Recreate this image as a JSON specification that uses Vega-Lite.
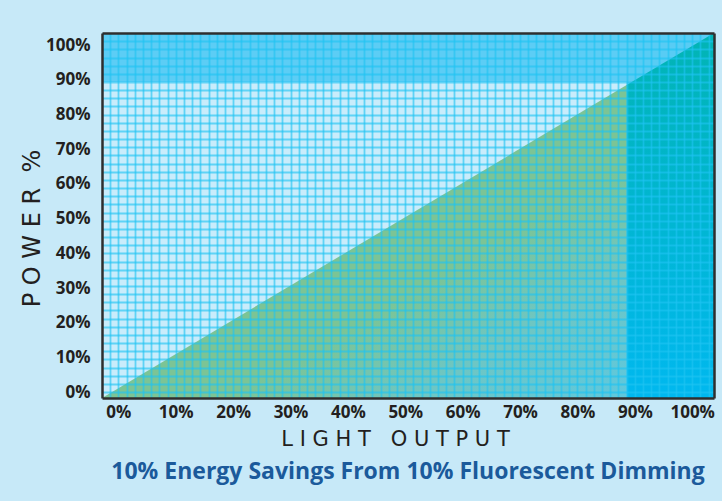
{
  "$schema": "https://vega.github.io/schema/vega-lite/v6.json",
  "width": 612,
  "height": 365,
  "autosize": {"type": "none"},
  "padding": {"left": 102, "top": 33, "right": 8, "bottom": 103},
  "background": "#c7e9f8",
  "config": {"view": {"fill": "#c9ecfb", "stroke": null}},
  "title": {
    "text": "10% Energy Savings From 10% Fluorescent Dimming",
    "orient": "bottom",
    "anchor": "middle",
    "font": "Open Sans",
    "fontSize": 23,
    "fontWeight": "bold",
    "color": "#1b5a9b",
    "offset": 12
  },
  "resolve": {"axis": {"x": "independent", "y": "independent"}},
  "layer": [
    {
      "data": {"values": [{"x0": -2.85, "x1": 103.8, "y0": 89.38, "y1": 103.5}]},
      "mark": {"type": "rect", "color": "#5ccdf5"},
      "encoding": {
        "x": {
          "field": "x0", "type": "quantitative",
          "scale": {"domain": [-2.85, 103.8], "nice": false, "zero": false},
          "axis": {
            "orient": "top",
            "values": [-1.429, 0, 1.429, 2.857, 4.286, 5.714, 7.143, 8.571, 10, 11.429, 12.857, 14.286, 15.714, 17.143, 18.571, 20, 21.429, 22.857, 24.286, 25.714, 27.143, 28.571, 30, 31.429, 32.857, 34.286, 35.714, 37.143, 38.571, 40, 41.429, 42.857, 44.286, 45.714, 47.143, 48.571, 50, 51.429, 52.857, 54.286, 55.714, 57.143, 58.571, 60, 61.429, 62.857, 64.286, 65.714, 67.143, 68.571, 70, 71.429, 72.857, 74.286, 75.714, 77.143, 78.571, 80, 81.429, 82.857, 84.286, 85.714, 87.143, 88.571, 90, 91.429, 92.857, 94.286, 95.714, 97.143, 98.571, 100, 101.429, 102.857],
            "labels": false, "ticks": false, "title": null,
            "domain": true, "domainColor": "#2e2e2e", "domainWidth": 2.5,
            "grid": true, "gridColor": "#1fc3f2", "gridOpacity": 0.62, "gridWidth": 1.8,
            "zindex": 1
          }
        },
        "x2": {"field": "x1"},
        "y": {
          "field": "y0", "type": "quantitative",
          "scale": {"domain": [-1.7, 103.5], "nice": false, "zero": false},
          "axis": {
            "orient": "right",
            "values": [0, 2.35, 4.7, 7.06, 9.41, 11.76, 14.11, 16.46, 18.82, 21.17, 23.52, 25.87, 28.22, 30.58, 32.93, 35.28, 37.63, 39.98, 42.34, 44.69, 47.04, 49.39, 51.74, 54.1, 56.45, 58.8, 61.15, 63.5, 65.86, 68.21, 70.56, 72.91, 75.26, 77.62, 79.97, 82.32, 84.67, 87.02, 89.38, 91.73, 94.08, 96.43, 98.78, 101.14],
            "labels": false, "ticks": false, "title": null,
            "domain": true, "domainColor": "#2e2e2e", "domainWidth": 2.5,
            "grid": true, "gridColor": "#1fc3f2", "gridOpacity": 0.62, "gridWidth": 1.8,
            "zindex": 1
          }
        },
        "y2": {"field": "y1"}
      }
    },
    {
      "data": {"values": [{"x0": 88.571, "x1": 103.8, "y0": -1.7, "y1": 103.5}]},
      "mark": {"type": "rect", "color": "#58ccf4"},
      "encoding": {
        "x": {
          "field": "x0", "type": "quantitative",
          "axis": {
            "orient": "bottom",
            "values": [0, 10, 20, 30, 40, 50, 60, 70, 80, 90, 100],
            "labelExpr": "datum.value + '%'",
            "labelFont": "Open Sans", "labelFontSize": 17, "labelFontWeight": "bold", "labelColor": "#231f20",
            "labelPadding": 6, "labelOverlap": false, "labelFlush": false,
            "ticks": false, "grid": false,
            "domain": true, "domainColor": "#2e2e2e", "domainWidth": 2.5,
            "title": "L I G H T \u00a0 O U T P U T",
            "titleFont": "DejaVu Sans", "titleFontSize": 21, "titleFontWeight": "normal", "titleColor": "#231f20",
            "titlePadding": 8, "titleX": 293,
            "zindex": 1
          }
        },
        "x2": {"field": "x1"},
        "y": {
          "field": "y0", "type": "quantitative",
          "axis": {
            "orient": "left",
            "values": [0, 10, 20, 30, 40, 50, 60, 70, 80, 90, 100],
            "labelExpr": "datum.value + '%'",
            "labelFont": "Open Sans", "labelFontSize": 17, "labelFontWeight": "bold", "labelColor": "#231f20",
            "labelPadding": 12, "labelOverlap": false, "labelFlush": false,
            "ticks": false, "grid": false,
            "domain": true, "domainColor": "#2e2e2e", "domainWidth": 2.5,
            "title": "P O W E R \u00a0%",
            "titleFont": "DejaVu Sans", "titleFontSize": 24, "titleFontWeight": "normal", "titleColor": "#231f20",
            "titlePadding": 1, "titleY": 195,
            "zindex": 1
          }
        },
        "y2": {"field": "y1"}
      }
    },
    {
      "data": {"values": [{"light": -2.85, "power": -1.7}, {"light": 88.571, "power": 88.48}]},
      "mark": {
        "type": "area",
        "color": {
          "gradient": "linear", "x1": 0, "y1": 0, "x2": 1, "y2": 1,
          "stops": [
            {"offset": 0, "color": "#7cc495"},
            {"offset": 0.62, "color": "#7cc495"},
            {"offset": 0.8, "color": "#6ec6c4"},
            {"offset": 1, "color": "#5ec8de"}
          ]
        }
      },
      "encoding": {
        "x": {"field": "light", "type": "quantitative", "axis": null},
        "y": {"field": "power", "type": "quantitative", "axis": null},
        "y2": {"datum": -1.7}
      }
    },
    {
      "data": {"values": [{"light": 88.571, "power": 88.48}, {"light": 103.8, "power": 103.5}]},
      "mark": {
        "type": "area",
        "color": {
          "gradient": "linear", "x1": 0, "y1": 0, "x2": 0, "y2": 1,
          "stops": [
            {"offset": 0, "color": "#02b4b4"},
            {"offset": 1, "color": "#00b8ef"}
          ]
        }
      },
      "encoding": {
        "x": {"field": "light", "type": "quantitative", "axis": null},
        "y": {"field": "power", "type": "quantitative", "axis": null},
        "y2": {"datum": -1.7}
      }
    }
  ]
}
